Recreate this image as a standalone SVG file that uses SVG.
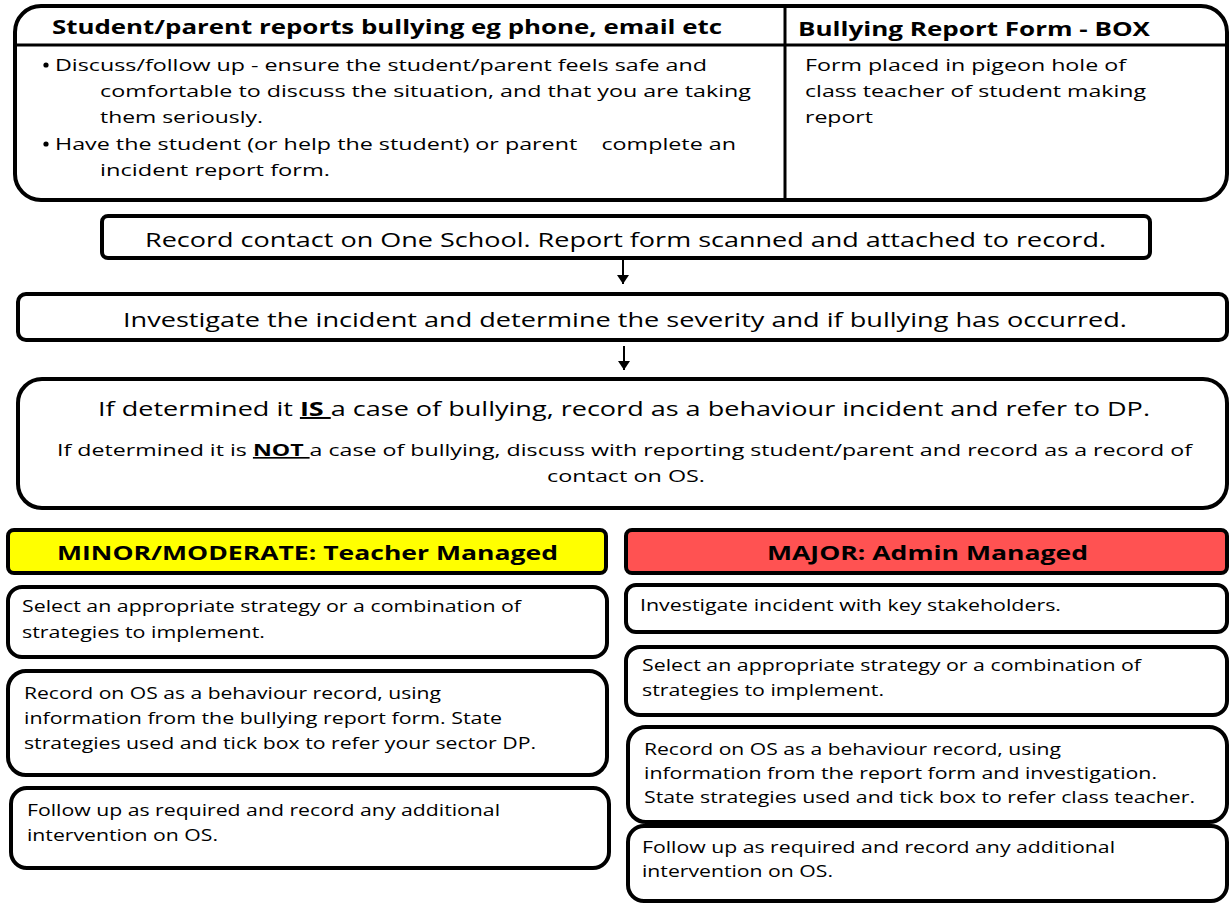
<svg xmlns="http://www.w3.org/2000/svg" width="1231" height="904" viewBox="0 0 1231 904">
<style>
.box{fill:#fff;stroke:#000;stroke-width:4}
.t{font-family:"Open Sans","Liberation Sans",sans-serif;fill:#000}
.b{font-size:16.5px}
.h{font-size:19px;font-weight:bold}
.m{font-size:19.5px}
.c{stroke:#000;stroke-width:2;fill:none}
</style>
<defs>
<marker id="ah" viewBox="0 0 9 12" refX="9" refY="6" markerWidth="9" markerHeight="12" markerUnits="userSpaceOnUse" orient="auto">
<path d="M0,0 L9,6 L0,12 z" fill="#000"/>
</marker>
</defs>
<rect width="1231" height="904" fill="#fff"/>

<g id="report">
<rect class="box" x="15" y="6" width="1212" height="194" rx="26"/>
<line x1="15" y1="45" x2="1227" y2="45" stroke="#000" stroke-width="3"/>
<line x1="785" y1="6" x2="785" y2="200" stroke="#000" stroke-width="3"/>
<text class="t h" x="52" y="34" textLength="670" lengthAdjust="spacingAndGlyphs">Student/parent reports bullying eg phone, email etc</text>
<text class="t h" x="798" y="36" textLength="352" lengthAdjust="spacingAndGlyphs">Bullying Report Form - BOX</text>
<circle cx="46" cy="65" r="2.6" fill="#000"/>
<text class="t b" x="55" y="71" textLength="652" lengthAdjust="spacingAndGlyphs">Discuss/follow up - ensure the student/parent feels safe and</text>
<text class="t b" x="100" y="97" textLength="651" lengthAdjust="spacingAndGlyphs">comfortable to discuss the situation, and that you are taking</text>
<text class="t b" x="100" y="123" textLength="163" lengthAdjust="spacingAndGlyphs">them seriously.</text>
<circle cx="46" cy="144" r="2.6" fill="#000"/>
<text class="t b" x="55" y="150" textLength="681" lengthAdjust="spacingAndGlyphs" xml:space="preserve">Have the student (or help the student) or parent    complete an</text>
<text class="t b" x="100" y="176" textLength="230" lengthAdjust="spacingAndGlyphs">incident report form.</text>
<text class="t b" x="805" y="71" textLength="321" lengthAdjust="spacingAndGlyphs">Form placed in pigeon hole of</text>
<text class="t b" x="805" y="97" textLength="341" lengthAdjust="spacingAndGlyphs">class teacher of student making</text>
<text class="t b" x="805" y="123" textLength="68" lengthAdjust="spacingAndGlyphs">report</text>
</g>

<g id="record">
<rect class="box" x="102" y="216" width="1048" height="42" rx="6"/>
<text class="t m" x="145" y="247" textLength="961" lengthAdjust="spacingAndGlyphs">Record contact on One School. Report form scanned and attached to record.</text>
</g>

<g id="investigate">
<rect class="box" x="18" y="294" width="1209" height="46" rx="8"/>
<text class="t m" x="123" y="327" textLength="1004" lengthAdjust="spacingAndGlyphs">Investigate the incident and determine the severity and if bullying has occurred.</text>
</g>

<g id="determine">
<rect class="box" x="18" y="379" width="1209" height="129" rx="24"/>
<text class="t m" x="98" y="416" textLength="1052" lengthAdjust="spacingAndGlyphs">If determined it <tspan font-weight="bold" text-decoration="underline">IS </tspan>a case of bullying, record as a behaviour incident and refer to DP.</text>
<text class="t b" x="57" y="456" textLength="1135" lengthAdjust="spacingAndGlyphs">If determined it is <tspan font-weight="bold" text-decoration="underline">NOT </tspan>a case of bullying, discuss with reporting student/parent and record as a record of</text>
<text class="t b" x="547" y="482" textLength="158" lengthAdjust="spacingAndGlyphs">contact on OS.</text>
</g>

<g id="minor-header">
<rect x="8" y="530" width="598" height="43" rx="6" fill="#ffff00" stroke="#000" stroke-width="4"/>
<text class="t h" x="57" y="560" textLength="501" lengthAdjust="spacingAndGlyphs">MINOR/MODERATE: Teacher Managed</text>
</g>

<g id="major-header">
<rect x="626" y="530" width="601" height="43" rx="6" fill="#ff5252" stroke="#000" stroke-width="4"/>
<text class="t h" x="767" y="560" textLength="321" lengthAdjust="spacingAndGlyphs">MAJOR: Admin Managed</text>
</g>

<g id="minor-select">
<rect class="box" x="8" y="587" width="599" height="70" rx="14"/>
<text class="t b" x="22" y="612" textLength="499" lengthAdjust="spacingAndGlyphs">Select an appropriate strategy or a combination of</text>
<text class="t b" x="22" y="638" textLength="243" lengthAdjust="spacingAndGlyphs">strategies to implement.</text>
</g>

<g id="minor-record">
<rect class="box" x="8" y="671" width="599" height="104" rx="18"/>
<text class="t b" x="24" y="699" textLength="417" lengthAdjust="spacingAndGlyphs">Record on OS as a behaviour record, using</text>
<text class="t b" x="24" y="724" textLength="478" lengthAdjust="spacingAndGlyphs">information from the bullying report form. State</text>
<text class="t b" x="24" y="749" textLength="512" lengthAdjust="spacingAndGlyphs">strategies used and tick box to refer your sector DP.</text>
</g>

<g id="minor-follow">
<rect class="box" x="11" y="788" width="598" height="80" rx="16"/>
<text class="t b" x="27" y="816" textLength="473" lengthAdjust="spacingAndGlyphs">Follow up as required and record any additional</text>
<text class="t b" x="27" y="841" textLength="191" lengthAdjust="spacingAndGlyphs">intervention on OS.</text>
</g>

<g id="major-investigate">
<rect class="box" x="626" y="585" width="601" height="47" rx="10"/>
<text class="t b" x="640" y="611" textLength="421" lengthAdjust="spacingAndGlyphs">Investigate incident with key stakeholders.</text>
</g>

<g id="major-select">
<rect class="box" x="626" y="647" width="601" height="68" rx="14"/>
<text class="t b" x="642" y="671" textLength="499" lengthAdjust="spacingAndGlyphs">Select an appropriate strategy or a combination of</text>
<text class="t b" x="642" y="696" textLength="242" lengthAdjust="spacingAndGlyphs">strategies to implement.</text>
</g>

<g id="major-record">
<rect class="box" x="628" y="727" width="599" height="95" rx="18"/>
<text class="t b" x="644" y="755" textLength="417" lengthAdjust="spacingAndGlyphs">Record on OS as a behaviour record, using</text>
<text class="t b" x="644" y="779" textLength="513" lengthAdjust="spacingAndGlyphs">information from the report form and investigation.</text>
<text class="t b" x="644" y="803" textLength="551" lengthAdjust="spacingAndGlyphs">State strategies used and tick box to refer class teacher.</text>
</g>

<g id="major-follow">
<rect class="box" x="628" y="826" width="599" height="75" rx="16"/>
<text class="t b" x="642" y="853" textLength="473" lengthAdjust="spacingAndGlyphs">Follow up as required and record any additional</text>
<text class="t b" x="642" y="877" textLength="191" lengthAdjust="spacingAndGlyphs">intervention on OS.</text>
</g>

<g id="connectors">
<line class="c" x1="623" y1="259" x2="623" y2="284" marker-end="url(#ah)"/>
<line class="c" x1="624" y1="346" x2="624" y2="370" marker-end="url(#ah)"/>
</g>
</svg>
